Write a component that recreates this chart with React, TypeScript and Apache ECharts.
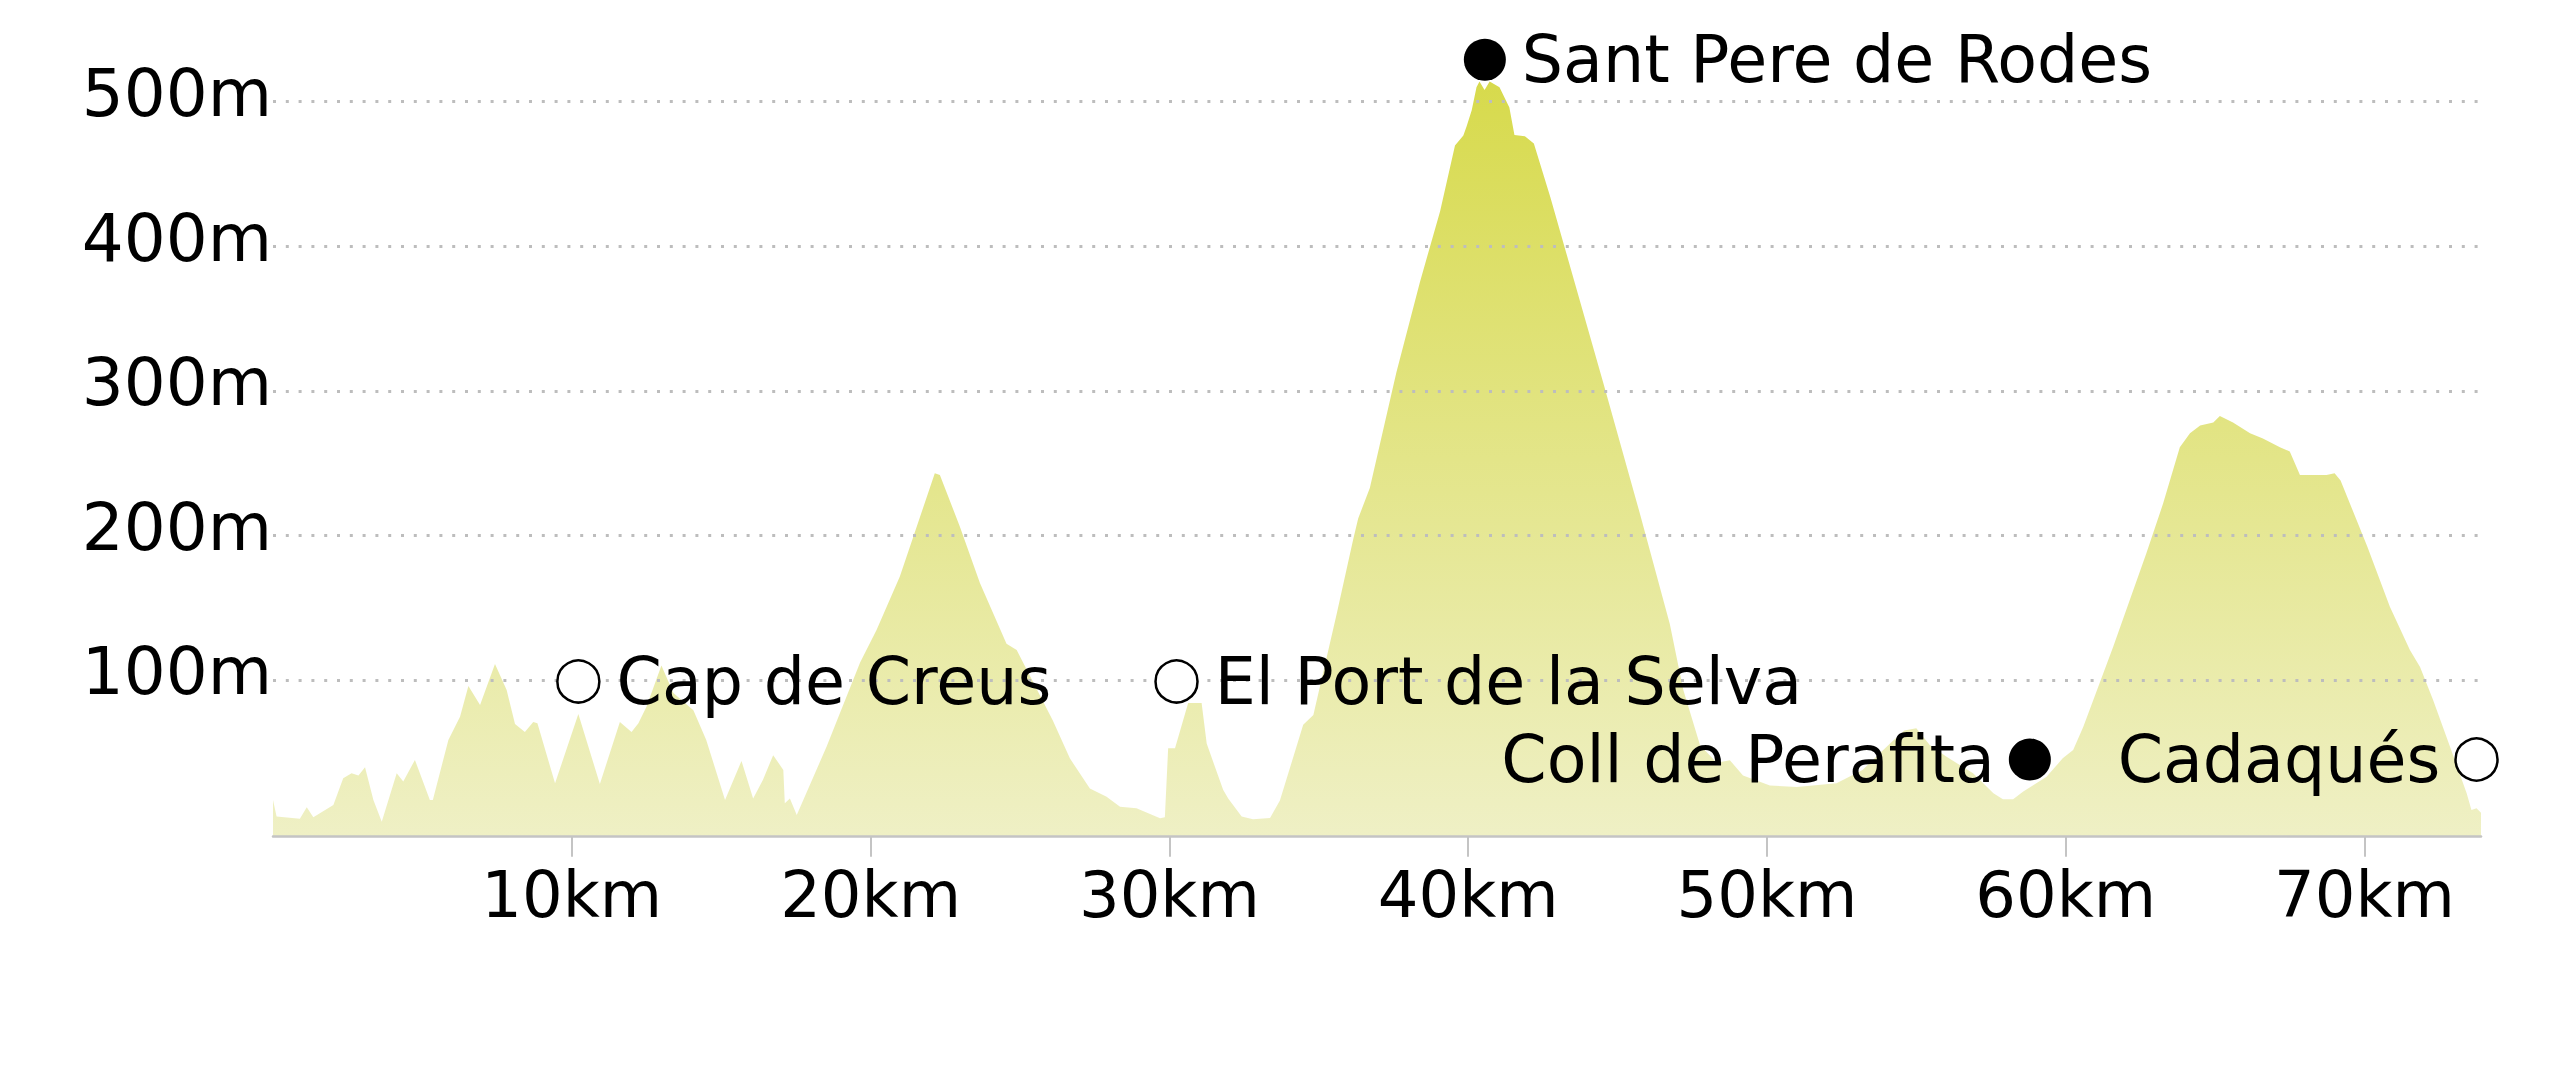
import React, { useEffect, useRef } from 'react';
import * as echarts from 'echarts';

const distanceKm = [
  0.0, 0.12, 0.9, 1.13, 1.35, 2.02, 2.35, 2.63, 2.86, 3.08, 3.36, 3.64, 4.14, 4.36, 4.75, 5.25, 5.35,
  5.87, 6.26, 6.54, 6.93, 7.43, 7.82, 8.1, 8.43, 8.71, 8.85, 9.44, 10.22, 10.94, 11.61, 12.0, 12.23,
  12.5, 13.0, 13.4, 14.07, 14.5, 15.13, 15.68, 16.07, 16.4, 16.74, 17.08, 17.13, 17.3, 17.53, 18.53,
  19.65, 20.2, 20.98, 22.15, 22.32, 22.99, 23.66, 24.55, 24.89, 26.1, 26.67, 27.34, 27.9, 28.35, 28.9,
  29.69, 29.85, 29.96, 30.19, 30.63, 31.08, 31.25, 31.8, 31.97, 32.42, 32.8, 33.37, 33.7, 34.48, 34.82,
  35.6, 36.16, 36.32, 36.71, 37.6, 38.39, 39.06, 39.56, 39.84, 39.95, 40.12, 40.28, 40.38, 40.55, 40.72,
  41.05, 41.38, 41.55, 41.9, 42.2, 42.75, 44.52, 45.75, 46.75, 47.2, 47.76, 48.32, 48.76, 49.2, 50.1,
  51.0, 52.33, 53.2, 54.12, 54.6, 55.0, 55.45, 56.0, 56.9, 57.58, 57.9, 58.24, 58.58, 59.36, 59.9,
  60.25, 60.59, 61.59, 62.7, 63.26, 63.82, 64.16, 64.5, 64.94, 65.16, 65.6, 66.17, 66.6, 67.17, 67.5,
  67.84, 68.73, 69.0, 69.2, 70.1, 70.85, 71.52, 71.86, 72.3, 72.86, 73.42, 73.58, 73.75, 73.92,
];

const elevationM = [
  17, 5.5, 4, 12, 5, 13.5, 32, 35.5, 34, 39.6, 17, 2, 35.5, 29.7, 44.7, 17, 17,
  58.5, 74.6, 95.8, 82.7, 111, 93, 69.6, 64, 71, 70, 28.5, 76.5, 28, 71, 64, 70,
  81.5, 110, 91, 79, 58.5, 17, 44, 18, 31, 48, 37.8, 14.7, 18, 6.6, 54,
  112, 134.6, 171.5, 243, 241.8, 206, 167, 125, 120.7, 72, 45.8, 25, 19.3, 12.4, 11.3,
  4.4, 5, 52.8, 52.8, 84, 84, 56, 24, 18, 5.5, 3.7, 4.5, 16.6, 69, 75.8,
  145.6, 197.8, 211.7, 232.8, 312.8, 375.5, 424, 469.6, 476.5, 483, 494, 510, 514, 508, 514,
  510, 496, 477, 476, 471, 434, 305.8, 215, 138.7, 93.3, 55, 42.7, 44.5, 34, 27,
  26, 28.5, 37.8, 56, 65, 66.6, 55, 47, 35.5, 21.6, 17.5, 17.5, 22.8, 33, 45.8,
  51.6, 67.7, 123, 187.6, 222, 261, 270.6, 276, 278, 282.6, 278, 270.6, 267, 261, 258,
  241.8, 241.8, 243, 238, 192, 150.7, 120.7, 109, 86, 54, 21.6, 10, 11.3, 7.8,
];

const yTicks = [100, 200, 300, 400, 500];
const xTicks = [10, 20, 30, 40, 50, 60, 70];

const placeNames = ['Cap de Creus', 'El Port de la Selva', 'Sant Pere de Rodes', 'Coll de Perafita', 'Cadaqués'];
const placeKm = [10.22, 30.24, 40.56, 58.8, 73.75];
const placeElev = [99, 99, 529, 45, 45];
const placeFilled = [false, false, true, true, false];
const placeSide = ['right', 'right', 'right', 'left', 'left'];

const FONT = 'DejaVu Sans';

export default function App() {
  const ref = useRef<HTMLDivElement>(null);

  useEffect(() => {
    const chart = echarts.init(ref.current!, null, { renderer: 'svg' });

    const profile = distanceKm.map((d, i) => [d, elevationM[i]]);
    const places = placeNames.map((name, i) => ({
      name,
      value: [placeKm[i], placeElev[i]],
      itemStyle: {
        color: placeFilled[i] ? '#000' : '#fff',
        borderColor: '#000',
        borderWidth: placeFilled[i] ? 0 : 2.5,
        opacity: 1,
      },
      label: {
        show: true,
        position: placeSide[i],
        distance: placeSide[i] === 'right' ? 16 : 14,
        formatter: name,
        color: '#000',
        opacity: 1,
        fontSize: 65,
        fontFamily: FONT,
      },
    }));

    chart.setOption({
      animation: false,
      backgroundColor: '#fff',
      grid: {
        left: 273,
        right: 79,
        top: 43.8,
        bottom: 229.3,
        containLabel: false,
        outerBoundsMode: 'none',
      },
      xAxis: {
        type: 'value',
        min: 0,
        max: 73.9,
        z: 5,
        axisLine: { show: true, onZero: false, lineStyle: { color: '#c4c4c4', width: 2.5 } },
        axisTick: {
          show: true,
          length: 20,
          customValues: xTicks,
          lineStyle: { color: '#c4c4c4', width: 2 },
        },
        axisLabel: {
          customValues: xTicks,
          formatter: (v: number) => `${v}km`,
          color: '#000',
          fontSize: 64,
          fontFamily: FONT,
          lineHeight: 64,
          margin: 26,
        },
        splitLine: { show: false },
      },
      yAxis: {
        type: 'value',
        min: -8.4,
        max: 540,
        z: 5,
        axisLine: { show: false },
        axisTick: { show: false, customValues: yTicks },
        axisLabel: {
          customValues: yTicks,
          formatter: (v: number) => `${v}m`,
          color: '#000',
          fontSize: 66,
          fontFamily: FONT,
          margin: 1,
          verticalAlign: 'bottom',
          lineHeight: 16,
        },
        splitLine: {
          show: true,
          lineStyle: { color: '#bdbdbd', width: 3, type: [3, 9.8] },
        },
      },
      series: [
        {
          type: 'line',
          data: profile,
          showSymbol: false,
          symbol: 'none',
          z: 1,
          lineStyle: { width: 0 },
          areaStyle: {
            origin: 'start',
            opacity: 1,
            color: new echarts.graphic.LinearGradient(0, 0, 0, 1, [
              { offset: 0, color: '#d7da4c' },
              { offset: 1, color: '#eff0c5' },
            ]),
          },
          silent: true,
        },
        {
          type: 'scatter',
          data: places,
          symbol: 'circle',
          symbolSize: 42,
          z: 10,
          clip: false,
          silent: true,
        },
      ],
    });

    return () => chart.dispose();
  }, []);

  return (
    <div
      ref={ref}
      style={{ position: 'absolute', left: 0, top: 0, width: 2560, height: 1066, background: '#fff' }}
    />
  );
}
